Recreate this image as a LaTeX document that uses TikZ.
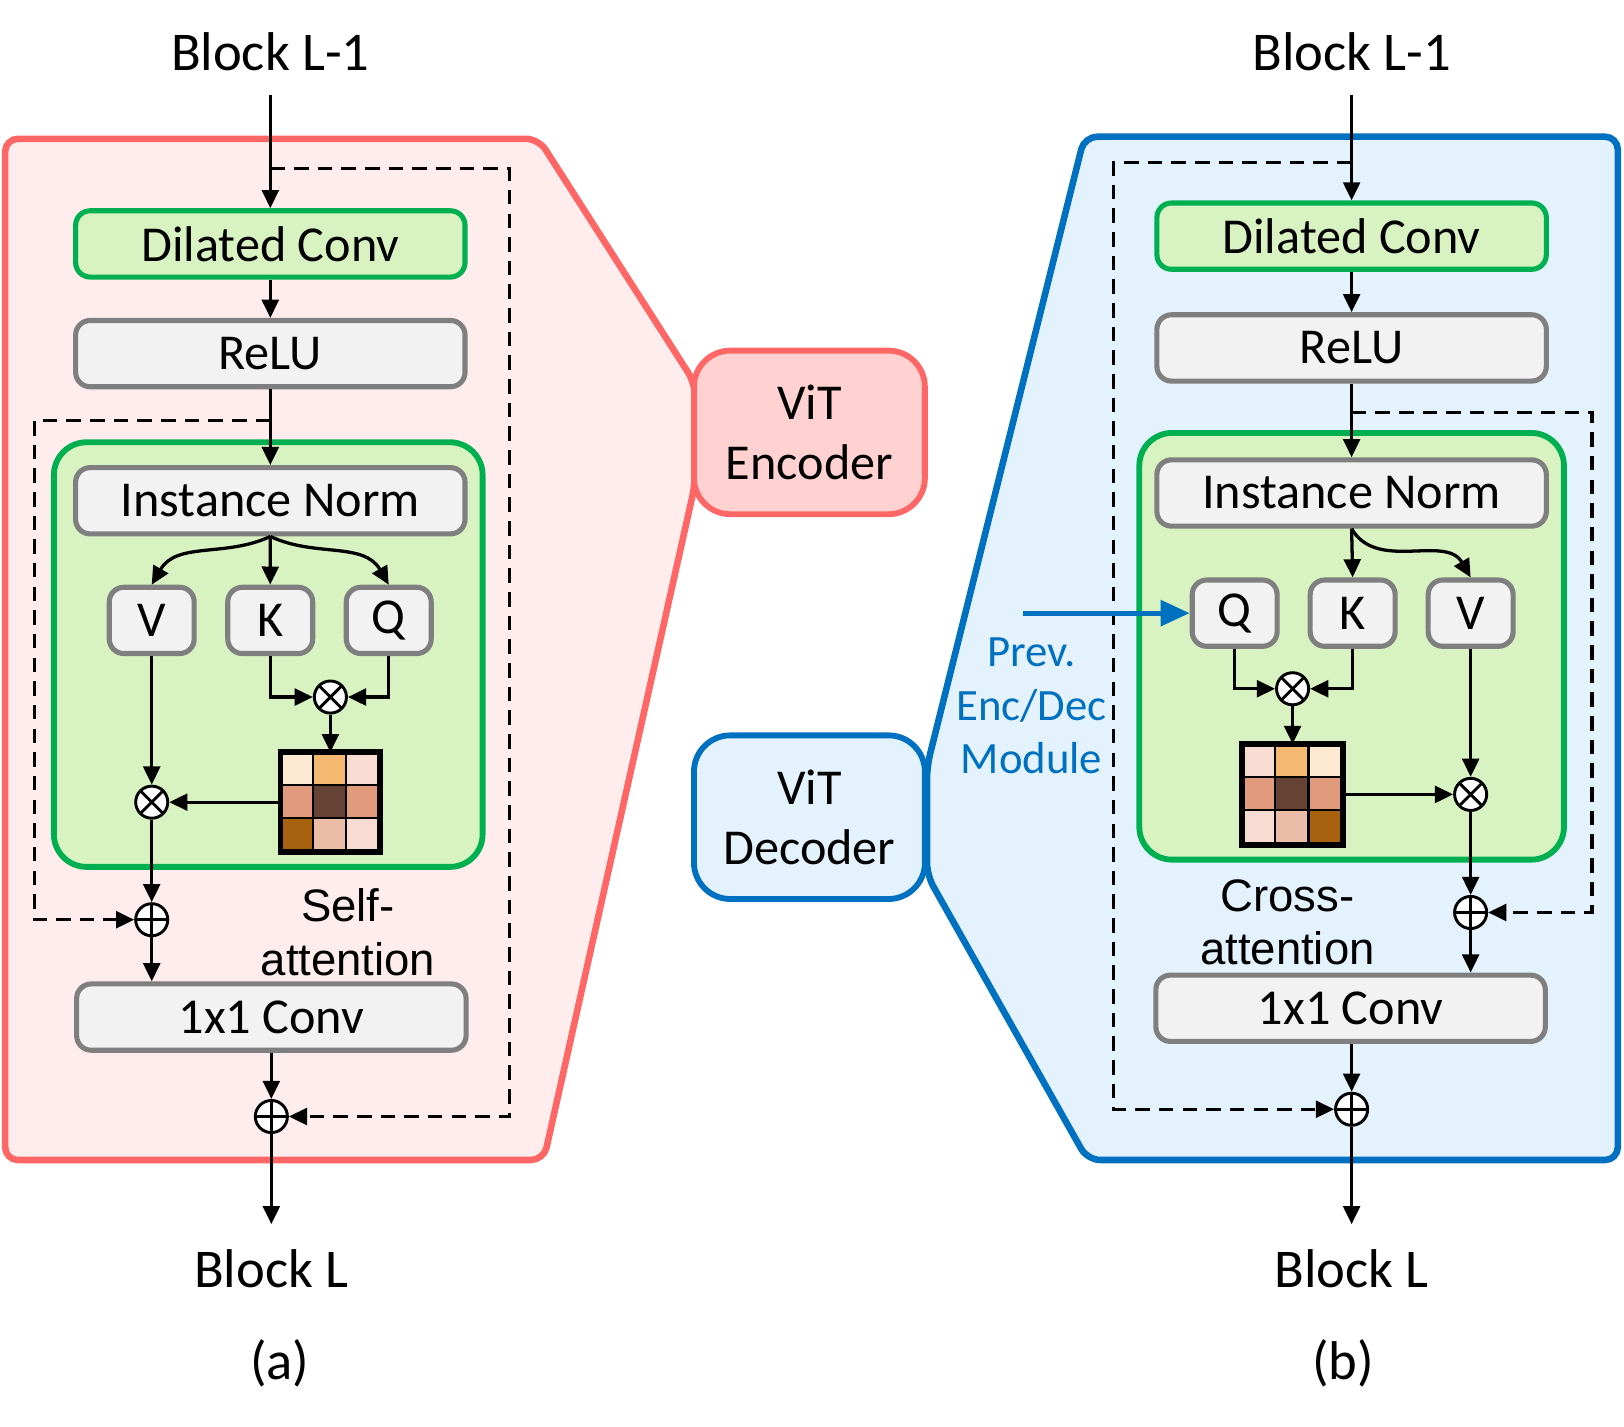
\documentclass[tikz,border=0pt]{standalone}
\usepackage{fontspec}
\setmainfont{Carlito}
\newfontfamily\arialfont{Liberation Sans}
\usetikzlibrary{arrows.meta, positioning, calc}
\definecolor{encred}{HTML}{FF6666}
\definecolor{encpink}{HTML}{FFEDED}
\definecolor{encbox}{HTML}{FFD1D1}
\definecolor{decblue}{HTML}{0070C0}
\definecolor{decfill}{HTML}{E3F2FD}
\definecolor{convgreen}{HTML}{00B050}
\definecolor{convfill}{HTML}{D9F2C1}
\definecolor{normgray}{HTML}{7F7F7F}
\definecolor{normfill}{HTML}{F2F2F2}
\definecolor{mcream}{HTML}{FDE9D1}
\definecolor{morange}{HTML}{F4B870}
\definecolor{mpink}{HTML}{F9DCD1}
\definecolor{msalmon}{HTML}{E19A7C}
\definecolor{mdark}{HTML}{654234}
\definecolor{mbrown}{HTML}{A8620F}
\definecolor{mpale}{HTML}{EBBDA8}

\begin{document}
\begin{tikzpicture}[
  node distance=0.42cm,
  lbl/.style={font=\fontsize{15}{18}\selectfont},
  layerbox/.style={rectangle, rounded corners=4pt, draw=normgray, fill=normfill, line width=1.4pt,
                   minimum width=3.76cm, minimum height=0.64cm, inner sep=0pt,
                   font=\fontsize{13.8}{16}\selectfont},
  convbox/.style={layerbox, draw=convgreen, fill=convfill},
  qkv/.style={layerbox, minimum width=0.82cm, rounded corners=4pt},
  attnbox/.style={rectangle, rounded corners=9pt, draw=convgreen, fill=convfill, line width=1.6pt},
  vit/.style={rectangle, rounded corners=10pt, line width=1.6pt, minimum width=2.23cm,
              minimum height=1.58cm, align=center, font=\fontsize{13.8}{16.5}\selectfont},
  opcirc/.style={circle, draw, fill=white, line width=0.8pt, minimum size=0.31cm, inner sep=0pt},
  mulop/.style={opcirc, path picture={\draw[line width=0.8pt]
      (path picture bounding box.south west) -- (path picture bounding box.north east)
      (path picture bounding box.north west) -- (path picture bounding box.south east);}},
  addop/.style={opcirc, path picture={\draw[line width=0.8pt]
      (path picture bounding box.west) -- (path picture bounding box.east)
      (path picture bounding box.north) -- (path picture bounding box.south);}},
  arr/.style={-{Triangle[length=5pt,width=4.6pt]}, line width=0.9pt},
  skiparr/.style={arr, dash pattern=on 4pt off 2.5pt},
  attnlbl/.style={align=center, font=\arialfont\fontsize{12.5}{14.8}\selectfont},
]
\useasboundingbox (0,0) rectangle (15.68,-13.77);

% panels
\draw[encred, fill=encpink, line width=1.8pt, rounded corners=3.5pt]
  (0.05,-1.34) -- (5.20,-1.34) -- (6.71,-3.70) -- (6.71,-4.68) -- (5.25,-11.20) -- (0.05,-11.20) -- cycle;
\draw[decblue, fill=decfill, line width=1.8pt, rounded corners=3.5pt]
  (10.47,-1.32) -- (15.62,-1.32) -- (15.62,-11.20) -- (10.50,-11.20) -- (8.95,-8.45) -- (8.95,-7.40) -- cycle;

\node[vit, draw=encred, fill=encbox] (enc) at (7.815,-4.175) {ViT\\Encoder};
\node[vit, draw=decblue, fill=decfill] (dec) at (7.815,-7.89) {ViT\\Decoder};

%% (a) self-attention block
\node[attnbox, minimum width=4.14cm, minimum height=4.10cm] (attA) at (2.59,-6.32) {};
\node[lbl] (inA) at (2.61,-0.50) {Block L-1};
\node[convbox] (dilA) at (2.61,-2.355) {Dilated Conv};
\node[layerbox, below=0.37cm of dilA] (reluA) {ReLU};
\node[layerbox] (normA) at (2.61,-4.835) {Instance Norm};
\node[qkv] (vA) at (1.465,-5.99) {V};
\node[qkv, right=0.275cm of vA] (kA) {K};
\node[qkv, right=0.275cm of kA] (qA) {Q};
\node[mulop] (mulA) at (3.19,-6.73) {};
\node[rectangle, minimum size=0.95cm, inner sep=0pt] (matA) at (3.19,-7.745) {};
\foreach \c [count=\i from 0] in {mcream,morange,mpink,msalmon,mdark,msalmon,mbrown,mpale,mpink} {
  \pgfmathsetmacro\cx{mod(\i,3)}
  \pgfmathsetmacro\cy{floor(\i/3)}
  \fill[\c, draw=black, line width=0.6pt] ($(matA.north west)+(\cx*0.3167,-\cy*0.3167)$) rectangle ++(0.3167,-0.3167);
}
\draw[line width=1.6pt] (matA.north west) rectangle (matA.south east);
\node[mulop] (mulVa) at (1.465,-7.745) {};
\node[addop] (addA) at (1.465,-8.88) {};
\node[attnlbl] (saA) at (3.36,-9.00) {Self-\\attention};
\node[layerbox] (convA) at (2.62,-9.82) {1x1 Conv};
\node[addop] (addOutA) at (2.62,-10.78) {};
\coordinate (outA) at (2.62,-11.82);
\node[lbl] (blkA) at (2.62,-12.25) {Block L};
\node[lbl] (capA) at (2.70,-13.16) {(a)};

\coordinate (skipA) at (2.61,-1.63);
\coordinate (skipA2) at (2.61,-4.06);
\draw[arr, shorten <=3pt] (inA.south) -- (dilA);
\draw[arr] (dilA) -- (reluA);
\draw[arr] (reluA) -- (normA);
\draw[skiparr] (skipA) -- ++(2.31,0) |- (addOutA);
\draw[skiparr] (skipA2) -- ++(-2.28,0) |- (addA);
\draw[arr] (normA.south) to[out=-155,in=60] (vA.north);
\draw[arr] (normA.south) -- (kA.north);
\draw[arr] (normA.south) to[out=-25,in=120] (qA.north);
\draw[arr] (kA.south) |- (mulA);
\draw[arr] (qA.south) |- (mulA);
\draw[arr] (mulA) -- (matA);
\draw[arr] (matA.west) -- (mulVa);
\draw[arr] (vA) -- (mulVa);
\draw[arr] (mulVa) -- (addA);
\draw[arr] (addA) -- (addA |- convA.north);
\draw[arr] (convA.south -| addOutA) -- (addOutA);
\draw[arr] (addOutA) -- (outA);

%% (b) cross-attention block
\node[attnbox, minimum width=4.10cm, minimum height=4.12cm] (attB) at (13.05,-6.24) {};
\node[lbl] (inB) at (13.05,-0.50) {Block L-1};
\node[convbox] (dilB) at (13.05,-2.28) {Dilated Conv};
\node[layerbox, below=0.39cm of dilB] (reluB) {ReLU};
\node[layerbox] (normB) at (13.05,-4.76) {Instance Norm};
\node[qkv] (kB) at (13.06,-5.92) {K};
\node[qkv, left=0.27cm of kB] (qB) {Q};
\node[qkv, right=0.27cm of kB] (vB) {V};
\node[mulop] (mulB) at (12.48,-6.65) {};
\node[rectangle, minimum size=0.96cm, inner sep=0pt] (matB) at (12.48,-7.67) {};
\foreach \c [count=\i from 0] in {mpink,morange,mcream,msalmon,mdark,msalmon,mpink,mpale,mbrown} {
  \pgfmathsetmacro\cx{mod(\i,3)}
  \pgfmathsetmacro\cy{floor(\i/3)}
  \fill[\c, draw=black, line width=0.6pt] ($(matB.north west)+(\cx*0.32,-\cy*0.32)$) rectangle ++(0.32,-0.32);
}
\draw[line width=1.6pt] (matB.north west) rectangle (matB.south east);
\node[mulop] (mulVb) at (vB |- matB) {};
\node[addop] (addB) at (vB |- 0,-8.81) {};
\node[attnlbl] (caB) at (12.43,-8.905) {Cross-\\attention};
\node[layerbox] (convB) at (13.04,-9.735) {1x1 Conv};
\node[addop] (addOutB) at (13.05,-10.71) {};
\coordinate (outB) at (13.05,-11.82);
\node[lbl] (blkB) at (13.05,-12.25) {Block L};
\node[lbl] (capB) at (12.97,-13.16) {(b)};
\coordinate (prevIn) at (9.88,-5.92);
\node[align=center, text=decblue, font=\fontsize{12.3}{14.8}\selectfont] (prev) at (9.96,-6.815) {Prev.\\Enc/Dec\\Module};

\coordinate (skipB) at (13.05,-1.57);
\coordinate (skipB2) at (13.05,-3.98);
\draw[arr, shorten <=3pt] (inB.south) -- (dilB);
\draw[arr] (dilB) -- (reluB);
\draw[arr] (reluB) -- (normB);
\draw[skiparr] (skipB) -- ++(-2.30,0) |- (addOutB);
\draw[skiparr] (skipB2) -- ++(2.32,0) |- (addB);
\draw[arr] (normB.south) -- (kB.north);
\draw[arr] (normB.south) to[out=-60,in=120] (vB.north);
\draw[arr, decblue, line width=1.3pt, -{Triangle[length=8pt,width=7pt]}] (prevIn) -- (qB);
\draw[arr] (qB.south) |- (mulB);
\draw[arr] (kB.south) |- (mulB);
\draw[arr] (mulB) -- (matB);
\draw[arr] (matB.east) -- (mulVb);
\draw[arr] (vB) -- (mulVb);
\draw[arr] (mulVb) -- (addB);
\draw[arr] (addB) -- (addB |- convB.north);
\draw[arr] (convB.south -| addOutB) -- (addOutB);
\draw[arr] (addOutB) -- (outB);

\end{tikzpicture}
\end{document}
